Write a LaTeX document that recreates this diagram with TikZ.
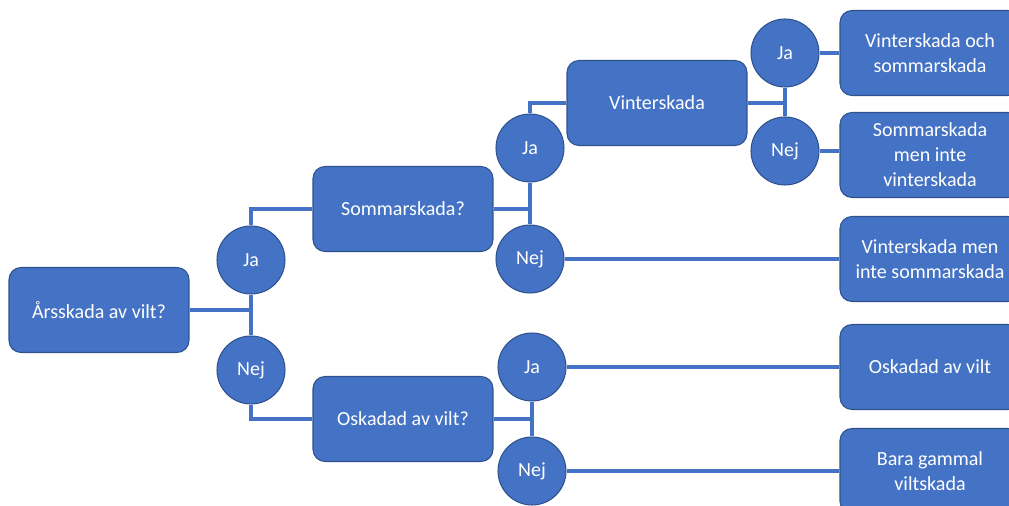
\documentclass[tikz,border=0pt]{standalone}
\usepackage{fontspec}
\setmainfont{Carlito}
\usetikzlibrary {positioning}
\definecolor {boxblue}{HTML}{4472C4}
\definecolor {edgeblue}{HTML}{2F528F}

\begin{document}
\begin{tikzpicture}[x=0.02cm ,y=-0.02cm ,
font=\fontsize{11.4pt}{14.2pt}\selectfont ,
qbox/.style ={ rectangle ,rounded corners=0.24cm ,fill=boxblue ,
draw=edgeblue ,line width=0.6pt ,text=white ,align=center ,
minimum width =3.6cm ,minimum height =1.7cm},
choice/.style ={ circle ,fill=boxblue ,draw=edgeblue ,line width=0.6pt ,
text=white ,minimum size =1.36cm ,inner sep=0pt},
link/.style ={ boxblue ,line width=2.3pt}]

\clip (0,0) rectangle (1009,506);

\node[qbox] (root) at (99,310) {Årsskada av vilt?};
\node[choice] (ja1) at (251,260) {Ja};
\node[choice] (nej1) at (251,370) {Nej};
\node[qbox] (somm) at (403,209) {Sommarskada?};
\node[qbox] (oskq) at (403,419) {Oskadad av vilt?};
\node[choice] (ja2) at (530,148) {Ja};
\node[choice] (nej2) at (530,259) {Nej};
\node[choice] (ja4) at (532,367) {Ja};
\node[choice] (nej4) at (532,471) {Nej};
\node[qbox] (vint) at (657,103) {Vinterskada};
\node[choice] (ja3) at (785,53) {Ja};
\node[choice] (nej3) at (785,151) {Nej};
\node[qbox] (r1) at (930,53) {Vinterskada och\\sommarskada};
\node[qbox] (r2) at (930,155) {Sommarskada\\men inte\\vinterskada};
\node[qbox] (r3) at (930,259) {Vinterskada men\\inte sommarskada};
\node[qbox] (r4) at (930,367) {Oskadad av vilt};
\node[qbox] (r5) at (930,471) {Bara gammal\\viltskada};

\draw[link] (root) -- (root -| ja1);
\draw[link] (ja1) -- (nej1);
\draw[link] (ja1) |- (somm);
\draw[link] (nej1) |- (oskq);

\draw[link] (somm) -- (somm -| ja2);
\draw[link] (ja2) -- (nej2);
\draw[link] (ja2) |- (vint);
\draw[link] (nej2) -- (r3);

\draw[link] (vint) -- (vint -| ja3);
\draw[link] (ja3) -- (nej3);
\draw[link] (ja3) -- (r1);
\draw[link] (nej3) -- (nej3 -| r2.west);

\draw[link] (oskq) -- (oskq -| ja4);
\draw[link] (ja4) -- (nej4);
\draw[link] (ja4) -- (r4);
\draw[link] (nej4) -- (r5);
\end{tikzpicture}
\end{document}
